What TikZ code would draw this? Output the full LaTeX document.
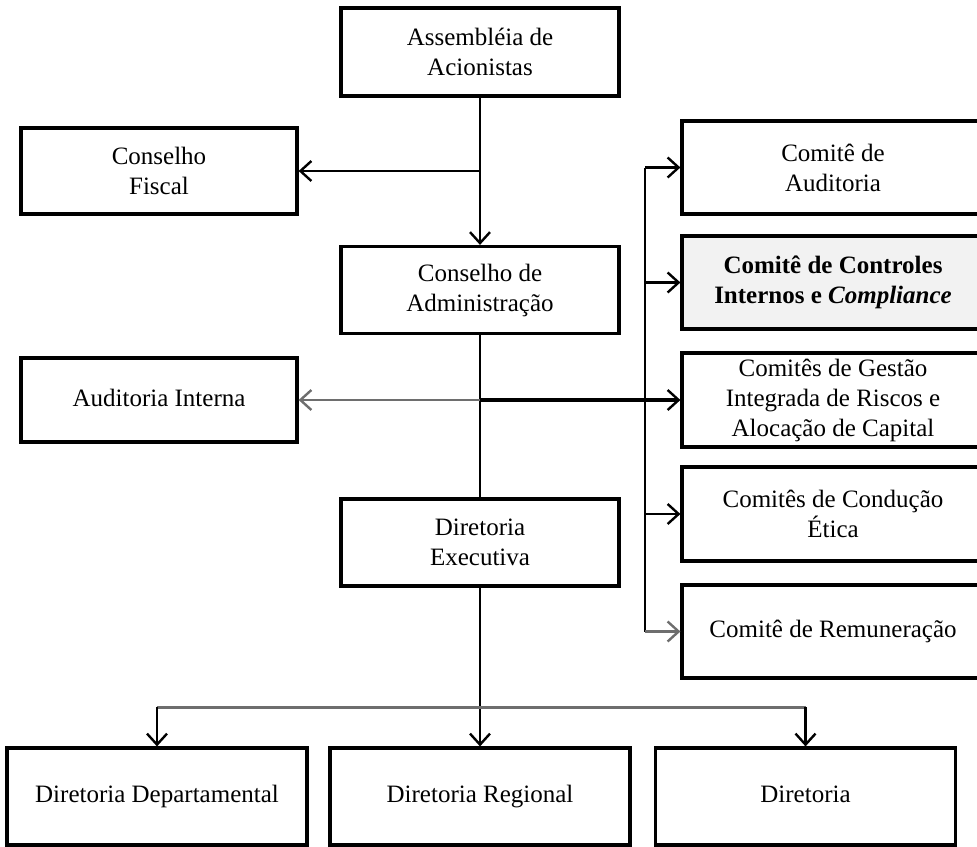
\documentclass[tikz,border=0pt]{standalone}
\usepackage{fontspec}
\setmainfont{Liberation Serif}
\usetikzlibrary{arrows.meta}
\definecolor{boxgray}{HTML}{F2F2F2}
\definecolor{linegray}{HTML}{6E6E6E}
\begin{document}
\begin{tikzpicture}[x=0.5pt,y=-0.5pt,
  box/.style={draw=black, line width=1.6pt, align=center, inner sep=0pt, font=\fontsize{12.5}{15}\selectfont, fill=white},
  oneline/.style={text height=8.8pt, text depth=2.8pt},
  midbox/.style={box, minimum width=139pt, minimum height=43.5pt},
  sidebox/.style={box, minimum width=138pt, minimum height=43pt},
  combox/.style={box, minimum width=151pt, minimum height=46.5pt},
  botbox/.style={box, oneline, minimum width=150pt, minimum height=48.5pt},
  conn/.style={line width=1.25pt, draw=black},
  arr/.style={-{Straight Barb[length=5.5pt,width=10pt,line width=1.2pt]}},
  rarr/.style={{Straight Barb[length=5.5pt,width=10pt,line width=1.2pt]}-},
]
\useasboundingbox (0,0) rectangle (977,846);
% main column
\node[midbox, minimum height=44pt] (asm) at (480,52) {Assembléia de\\Acionistas};
\node[midbox] (ca) at (480,290) {Conselho de\\Administração};
\node[midbox] (de) at (480,542.5) {Diretoria\\Executiva};
% left column
\node[sidebox] (cf) at (159,171) {Conselho\\Fiscal};
\node[sidebox, oneline, minimum height=42pt] (ai) at (159,400) {Auditoria Interna};
% committees
\node[combox] (caud) at (833,167.5) {Comitê de\\Auditoria};
\node[combox, fill=boxgray, font=\fontsize{12.5}{15}\selectfont\bfseries] (cci) at (833,282.5) {Comitê de Controles\\Internos e \textit{Compliance}};
\node[combox, minimum height=47pt] (cg) at (833,400) {Comitês de Gestão\\Integrada de Riscos e\\Alocação de Capital};
\node[combox, minimum height=47pt] (ce) at (833,514) {Comitês de Condução\\Ética};
\node[combox, oneline] (crem) at (833,631.5) {Comitê de Remuneração};
% bottom row
\node[botbox] (dd) at (157,796.5) {Diretoria Departamental};
\node[botbox] (dr) at (480,796.5) {Diretoria Regional};
\node[botbox] (dir) at (805.5,796.5) {Diretoria};
% connectors
\draw[conn,arr] (asm.south) -- (ca.north);
\coordinate (jcf) at (asm.south |- cf.east);
\draw[conn,arr] (jcf) -- (cf.east);
\draw[conn] (ca.south) -- (de.north);
\coordinate (jai) at (ca.south |- ai.east);
\draw[conn,rarr,draw=linegray] (ai.east) -- (jai);
\draw[conn,arr,line width=1.6pt] (jai) -- (cg.west);
\coordinate (sp) at (645,400);
\draw[conn] (sp |- caud.west) -- (sp |- crem.west);
\draw[conn,arr] (sp |- caud.west) -- (caud.west);
\draw[conn,arr] (sp |- cci.west) -- (cci.west);
\draw[conn,arr] (sp |- ce.west) -- (ce.west);
\draw[conn,arr,draw=linegray] (sp |- crem.west) -- (crem.west);
\draw[conn,arr] (de.south) -- (dr.north);
\coordinate (hb) at (480,707);
\draw[conn,draw=linegray,line width=1.5pt] (dd.north |- hb) -- (dir.north |- hb);
\draw[conn,arr] (dd.north |- hb) -- (dd.north);
\draw[conn,arr] (dir.north |- hb) -- (dir.north);
\end{tikzpicture}
\end{document}
